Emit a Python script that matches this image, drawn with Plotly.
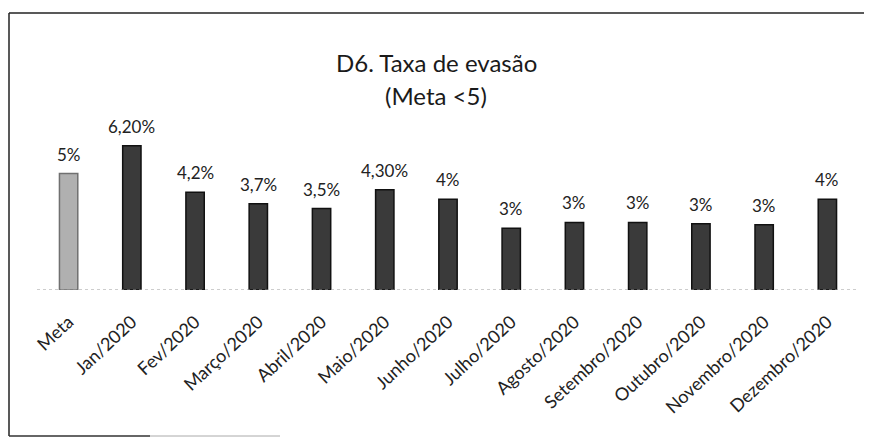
import plotly.graph_objects as go

categories = ["Meta", "Jan/2020", "Fev/2020", "Março/2020", "Abril/2020", "Maio/2020",
              "Junho/2020", "Julho/2020", "Agosto/2020", "Setembro/2020", "Outubro/2020",
              "Novembro/2020", "Dezembro/2020"]
values = [5.0, 6.2, 4.2, 3.7, 3.5, 4.3, 3.9, 2.65, 2.9, 2.9, 2.85, 2.8, 3.9]
labels = ["5%", "6,20%", "4,2%", "3,7%", "3,5%", "4,30%", "4%", "3%", "3%", "3%", "3%", "3%", "4%"]
title_lines = ["D6. Taxa de evasão", "(Meta <5)"]

FONT = "Lato, 'Open Sans', sans-serif"
W, H = 872, 439
OFF = 8  # page body margin offset
# targets in screen pixels
PLOT_LEFT, PLOT_RIGHT, PLOT_TOP, PLOT_BOTTOM = 37, 859, 127, 290
ML = PLOT_LEFT - OFF
MT = PLOT_TOP - OFF
MR = W - (PLOT_RIGHT - OFF)
MB = H - (PLOT_BOTTOM - OFF)
plot_w = PLOT_RIGHT - PLOT_LEFT
plot_h = PLOT_BOTTOM - PLOT_TOP

def px_to_paper_x(px):
    return (px - PLOT_LEFT) / plot_w

def px_to_paper_y(py):
    return (PLOT_BOTTOM - py) / plot_h

fill = ["#b0b0b0"] + ["#3a3a3a"] * (len(categories) - 1)
edge = ["#707070"] + ["#111111"] * (len(categories) - 1)

fig = go.Figure()
fig.add_trace(go.Bar(
    x=categories, y=values,
    marker=dict(color=fill, line=dict(color=edge, width=1.5)),
    width=0.29,
    hoverinfo="skip",
))

annotations = []
for c, v, t in zip(categories, values, labels):
    annotations.append(dict(x=c, y=v, xref="x", yref="y", text=t, showarrow=False,
                            yanchor="bottom", yshift=7,
                            font=dict(family=FONT, size=17, color="#222222")))
annotations.append(dict(x=px_to_paper_x(436), y=px_to_paper_y(62), xref="paper", yref="paper",
                        text=title_lines[0], showarrow=False, yanchor="middle",
                        font=dict(family=FONT, size=24, color="#1a1a1a")))
annotations.append(dict(x=px_to_paper_x(436), y=px_to_paper_y(95), xref="paper", yref="paper",
                        text=title_lines[1], showarrow=False, yanchor="middle",
                        font=dict(family=FONT, size=24, color="#1a1a1a")))

def seg(x0, y0, x1, y1, color, width):
    return dict(type="line", xref="paper", yref="paper",
                x0=px_to_paper_x(x0), x1=px_to_paper_x(x1),
                y0=px_to_paper_y(y0), y1=px_to_paper_y(y1),
                line=dict(color=color, width=width))

shapes = [
    dict(type="line", xref="paper", yref="y", x0=0, x1=1, y0=0, y1=0,
         line=dict(color="#9a9a9a", width=1, dash="dot")),
    seg(9, 13, 872, 13, "#222222", 1.5),       # top frame
    seg(9, 13, 9, 436, "#222222", 1.5),        # left frame
    seg(9, 436, 150, 436, "#333333", 1.5),     # bottom frame (dark part)
    seg(150, 436, 280, 436, "#aaaaaa", 1),     # bottom frame (faded part)
]

fig.update_layout(
    width=W, height=H,
    margin=dict(l=ML, r=MR, t=MT, b=MB),
    paper_bgcolor="white", plot_bgcolor="white",
    showlegend=False,
    annotations=annotations,
    shapes=shapes,
    xaxis=dict(tickangle=-43, tickfont=dict(family=FONT, size=18, color="#222222"),
               ticklabelstandoff=17,
               showgrid=False, showline=False, ticks="", range=[-0.5, len(categories) - 0.5]),
    yaxis=dict(range=[0, 7], visible=False, showgrid=False),
)

fig.write_html("out.html")
